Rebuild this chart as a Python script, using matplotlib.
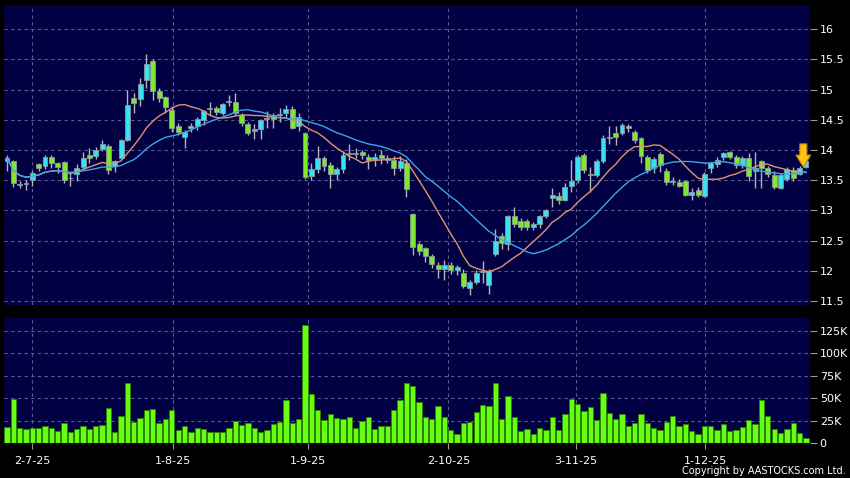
import matplotlib
matplotlib.use("Agg")
import matplotlib.pyplot as plt
import numpy as np
import pandas as pd

# ---------------- data ----------------
opens = [13.82, 13.81, 13.43, 13.44, 13.50, 13.77, 13.74, 13.89, 13.78, 13.80,
         13.54, 13.60, 13.72, 13.92, 13.90, 14.01, 14.07, 13.73, 13.86, 14.17,
         14.86, 14.84, 15.16, 15.48, 14.98, 14.87, 14.67, 14.39, 14.21, 14.37,
         14.39, 14.50, 14.68, 14.69, 14.62, 14.79, 14.79, 14.58, 14.43, 14.34,
         14.35, 14.52, 14.58, 14.58, 14.61, 14.68, 14.39, 14.28, 13.57, 13.69,
         13.86, 13.75, 13.60, 13.69, 13.94, 13.95, 13.96, 13.89, 13.83, 13.91,
         13.86, 13.84, 13.71, 13.79, 12.94, 12.45, 12.37, 12.25, 12.10, 12.03,
         12.10, 12.01, 11.96, 11.71, 11.82, 11.98, 11.77, 12.28, 12.58, 12.45,
         12.90, 12.83, 12.83, 12.73, 12.78, 12.90, 13.20, 13.24, 13.18, 13.41,
         13.50, 13.92, 13.59, 13.59, 13.81, 14.20, 14.28, 14.28, 14.40, 14.30,
         14.20, 13.88, 13.71, 13.93, 13.66, 13.47, 13.47, 13.48, 13.26, 13.34,
         13.24, 13.70, 13.77, 13.88, 13.96, 13.88, 13.75, 13.86, 13.66, 13.81,
         13.70, 13.59, 13.37, 13.52, 13.67, 13.61, 13.72]
highs = [13.91, 13.84, 13.48, 13.50, 13.66, 13.79, 13.91, 13.92, 13.80, 13.82,
         13.62, 13.77, 13.97, 14.03, 14.05, 14.16, 14.10, 13.84, 14.19, 14.99,
         14.94, 15.19, 15.59, 15.50, 15.02, 14.90, 14.72, 14.45, 14.33, 14.45,
         14.54, 14.66, 14.80, 14.72, 14.78, 14.91, 14.94, 14.62, 14.46, 14.43,
         14.52, 14.64, 14.62, 14.69, 14.75, 14.72, 14.61, 14.30, 13.78, 14.07,
         13.90, 13.80, 13.72, 13.98, 14.10, 14.03, 14.00, 13.93, 13.95, 14.00,
         13.92, 13.90, 13.90, 13.85, 12.95, 12.48, 12.40, 12.27, 12.15, 12.18,
         12.14, 12.09, 12.03, 11.85, 12.02, 12.16, 12.03, 12.70, 12.62, 12.93,
         13.05, 12.88, 12.85, 12.80, 12.93, 13.02, 13.37, 13.30, 13.45, 13.84,
         13.92, 13.95, 13.72, 13.85, 14.25, 14.39, 14.40, 14.45, 14.43, 14.33,
         14.22, 13.92, 13.88, 13.96, 13.70, 13.55, 13.52, 13.50, 13.37, 13.38,
         13.64, 13.80, 13.88, 13.97, 13.99, 13.92, 13.90, 13.95, 13.97, 13.84,
         13.73, 13.65, 13.62, 13.72, 13.72, 13.73, 13.84]
lows = [13.66, 13.39, 13.37, 13.33, 13.40, 13.65, 13.69, 13.70, 13.62, 13.45,
        13.40, 13.48, 13.68, 13.79, 13.85, 13.98, 13.60, 13.64, 13.85, 14.15,
        14.61, 14.73, 15.02, 14.83, 14.80, 14.61, 14.30, 14.24, 14.03, 14.30,
        14.33, 14.42, 14.58, 14.58, 14.58, 14.73, 14.58, 14.40, 14.25, 14.19,
        14.19, 14.36, 14.37, 14.46, 14.55, 14.35, 14.32, 13.52, 13.50, 13.62,
        13.65, 13.37, 13.50, 13.62, 13.84, 13.86, 13.85, 13.69, 13.74, 13.77,
        13.78, 13.59, 13.66, 13.23, 12.26, 12.26, 12.15, 12.04, 11.88, 11.85,
        11.95, 11.93, 11.72, 11.60, 11.78, 11.80, 11.62, 12.25, 12.36, 12.35,
        12.72, 12.67, 12.67, 12.67, 12.71, 12.88, 13.06, 13.10, 13.15, 13.31,
        13.45, 13.62, 13.31, 13.55, 13.78, 14.10, 14.08, 14.24, 14.30, 14.12,
        13.78, 13.62, 13.62, 13.64, 13.42, 13.42, 13.38, 13.24, 13.17, 13.22,
        13.23, 13.62, 13.72, 13.84, 13.85, 13.70, 13.70, 13.48, 13.37, 13.37,
        13.55, 13.35, 13.35, 13.48, 13.48, 13.58, 13.70]
closes = [13.87, 13.45, 13.42, 13.46, 13.62, 13.71, 13.89, 13.78, 13.72, 13.50,
          13.53, 13.71, 13.86, 13.86, 14.00, 14.10, 13.67, 13.81, 14.17, 14.75,
          14.78, 15.09, 15.42, 14.98, 14.86, 14.71, 14.36, 14.29, 14.29, 14.39,
          14.51, 14.65, 14.69, 14.63, 14.76, 14.81, 14.61, 14.45, 14.28, 14.32,
          14.49, 14.53, 14.51, 14.60, 14.68, 14.37, 14.55, 13.55, 13.69, 13.86,
          13.74, 13.60, 13.69, 13.92, 13.95, 13.94, 13.91, 13.83, 13.89, 13.87,
          13.84, 13.70, 13.82, 13.35, 12.39, 12.32, 12.25, 12.11, 12.03, 12.10,
          12.02, 12.06, 11.75, 11.82, 11.96, 11.99, 12.00, 12.50, 12.46, 12.91,
          12.77, 12.73, 12.73, 12.78, 12.91, 13.00, 13.26, 13.17, 13.38, 13.49,
          13.88, 13.67, 13.60, 13.82, 14.20, 14.21, 14.22, 14.42, 14.37, 14.17,
          13.90, 13.67, 13.85, 13.75, 13.47, 13.48, 13.40, 13.26, 13.31, 13.26,
          13.61, 13.78, 13.84, 13.95, 13.88, 13.75, 13.86, 13.57, 13.71, 13.70,
          13.61, 13.38, 13.59, 13.68, 13.53, 13.70, 13.81]
volumes_k = [18, 49, 17, 16, 17.5, 17.5, 19, 17.5, 13.5, 22,
             12.5, 16, 19, 16, 19.5, 20.5, 39, 13, 30.5, 66.5,
             23.5, 28.5, 36.5, 38.5, 22, 27.5, 36.5, 15, 19.5, 12.5,
             17, 16, 13, 12, 13, 17, 25, 20, 22.5, 16.5,
             12.5, 14.5, 21, 24, 47.5, 23, 27, 131, 55, 37,
             25.5, 32, 28, 27.5, 29, 17.5, 24.5, 29, 16, 19,
             19, 36.5, 47.5, 66.5, 64, 45.5, 29, 26.5, 41, 29.5,
             15, 10.5, 22, 23.5, 34.5, 43, 41, 66.5, 27, 53,
             29.5, 13.5, 16, 10.5, 16.5, 14.5, 29, 15, 33, 49,
             44, 36, 40, 26, 56, 34, 27.5, 32.5, 19, 22.5,
             32, 22, 16.5, 14.5, 24, 30.5, 19.5, 21.5, 13.5, 10.5,
             19, 19.5, 15, 21, 14, 15, 18, 25.5, 21.5, 47.5,
             30, 15.5, 11.5, 15.5, 23, 11.5, 5.5]
date_labels = ["2-7-25", "1-8-25", "1-9-25", "2-10-25", "3-11-25", "1-12-25"]
date_tick_pos = [4.0, 26.2, 47.4, 69.6, 89.7, 110.1]
price_ticks = [11.5, 12, 12.5, 13, 13.5, 14, 14.5, 15, 15.5, 16]
volume_ticks_k = [0, 25, 50, 75, 100, 125]
ma_fast, ma_slow = 10, 20

# ---------------- styling ----------------
BG = "#000042"
GRID = "#5c5c8e"
UP = "#35e3f2"
DOWN = "#7fe92c"
DOJI = "#a8a8b8"
VOL = "#66ff12"

W, H = 850, 478
fig = plt.figure(figsize=(W / 100, H / 100), dpi=100, facecolor="black")

def axrect(l, t, r, b):
    return [l / W, 1 - b / H, (r - l) / W, (b - t) / H]

ax1 = fig.add_axes(axrect(4, 5, 810, 305), facecolor=BG)
ax2 = fig.add_axes(axrect(4, 318, 810, 443.3), facecolor=BG)

o = np.array(opens); h = np.array(highs); l = np.array(lows); c = np.array(closes)
n = len(c)
x = np.arange(n)

body_lo = np.minimum(o, c)
body_h = np.maximum(np.abs(c - o), 0.012)
colors = np.where(np.abs(c - o) < 0.02, DOJI, np.where(c > o, UP, DOWN))

# wicks
ax1.vlines(x, l, h, colors="#b4b4bc", linewidth=1.0, zorder=3)
# bodies
ax1.bar(x, body_h, bottom=body_lo, width=0.78, color=colors,
        edgecolor="#8c97a0", linewidth=0.6, zorder=4)

# moving averages
s = pd.Series(c)
ax1.plot(x, s.rolling(ma_fast, min_periods=1).mean(), color="#e3936c", lw=1.0, zorder=5)
ax1.plot(x, s.rolling(ma_slow, min_periods=1).mean(), color="#3ea6e6", lw=1.0, zorder=5)

# arrow marker over the last candle
ax1.annotate("", xy=(x[-1] - 0.4, c[-1] - 0.09), xycoords="data",
             xytext=(0, 23), textcoords="offset pixels",
             arrowprops=dict(arrowstyle="simple,head_width=1.05,head_length=0.85,tail_width=0.5",
                             fc="#ffc21a", ec="#c98a00", lw=0.8, shrinkA=0, shrinkB=0,
                             mutation_scale=10), zorder=6)

# volume
ax2.bar(x, volumes_k, width=0.84, color=VOL, edgecolor="#2e8000", linewidth=0.6, zorder=3)

xlim = (-0.47, 126.65)
for ax in (ax1, ax2):
    ax.set_xlim(*xlim)
    for sp in ax.spines.values():
        sp.set_visible(False)
    ax.yaxis.tick_right()
    ax.set_xticks(date_tick_pos)
    ax.grid(True, color=GRID, linestyle=(0, (3, 3)), linewidth=0.8, zorder=0)
    ax.set_axisbelow(True)
    ax.tick_params(axis="y", colors="#9a9a9a", labelcolor="white", length=5,
                   width=0.8, pad=2, labelsize=8)

ax1.set_ylim(11.434, 16.40)
ax1.set_yticks(price_ticks)
ax1.set_yticklabels([f"{v:g}" for v in price_ticks])
ax1.tick_params(axis="x", length=0, labelbottom=False)

ax2.set_ylim(0, 139)
ax2.set_yticks(volume_ticks_k)
ax2.set_yticklabels(["0" if v == 0 else f"{v}K" for v in volume_ticks_k])
ax2.set_xticklabels(date_labels)
ax2.tick_params(axis="x", colors="#9a9a9a", labelcolor="white", length=4,
                width=0.8, pad=5, labelsize=8)

fig.text(846 / W, 1 - 476 / H, "Copyright by AASTOCKS.com Ltd.", ha="right", va="bottom",
         color="white", fontsize=7)

fig.savefig("out.png", dpi=100, facecolor="black")
